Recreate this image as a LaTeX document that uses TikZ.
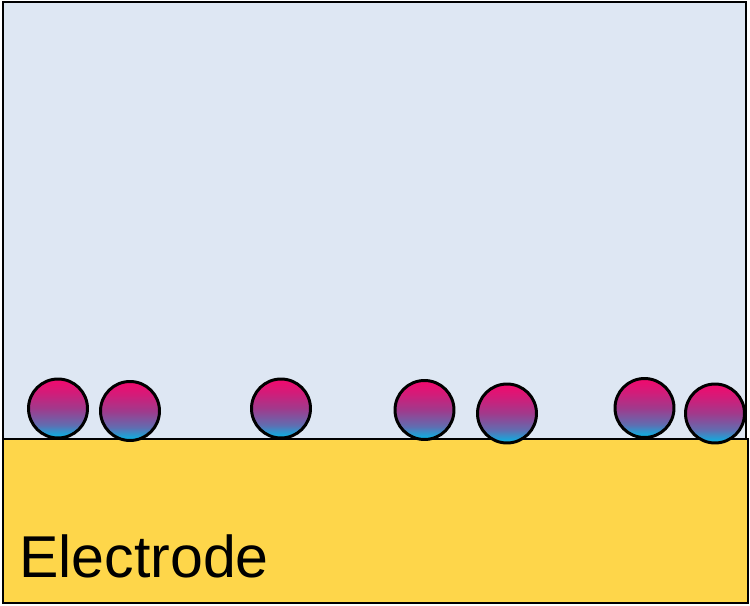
\documentclass[tikz,border=0pt]{standalone}
\usepackage{fontspec}
\setmainfont{Liberation Sans}
\usepackage{xcolor}
\usetikzlibrary{positioning}
\definecolor{solution}{RGB}{222,231,243}
\definecolor{gold}{RGB}{254,214,74}
\definecolor{beadtop}{RGB}{240,10,110}
\definecolor{beadmid}{RGB}{160,58,140}
\definecolor{beadbot}{RGB}{18,172,222}
\pgfdeclareverticalshading{beadfade}{100bp}{%
    color(0bp)=(beadbot); color(27bp)=(beadbot); color(36bp)=(beadbot!45!beadmid);
    color(50bp)=(beadmid); color(63bp)=(beadtop!60!beadmid); color(74bp)=(beadtop);
    color(100bp)=(beadtop)}

\begin{document}
\begin{tikzpicture}[
    x=0.02cm, y=-0.02cm,
    box/.style={draw=black, line width=1.6pt},
    bead/.style={
        circle, draw=black, line width=1.7pt, inner sep=0pt,
        minimum size=1.18cm, shading=beadfade
    },
    lbl/.style={font=\fontsize{33.6}{36}\selectfont, anchor=base west, inner sep=0pt},
]
\useasboundingbox (0,0) rectangle (750,605);

% solution and electrode
\draw[box, fill=solution] (3,2) rectangle (746,439);
\draw[box, fill=gold] (3,439) rectangle (748,603);

% adsorbed beads
\node[bead] (b1) at (58,408.5) {};
\node[bead] (b2) at (130,411) {};
\node[bead] (b3) at (281,408.5) {};
\node[bead] (b4) at (424.5,410) {};
\node[bead] (b5) at (507,413.5) {};
\node[bead] (b6) at (644.5,408) {};
\node[bead] (b7) at (715,413.5) {};

\node[lbl] (electrode) at (19,577) {Electrode};

\end{tikzpicture}
\end{document}
